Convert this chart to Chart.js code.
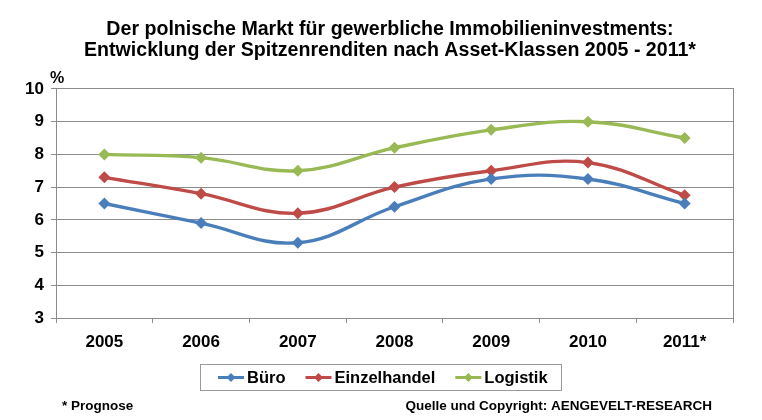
<!DOCTYPE html>
<html><head><meta charset="utf-8">
<script src="https://cdn.jsdelivr.net/npm/chart.js@4/dist/chart.umd.min.js"></script>
<style>html,body{margin:0;padding:0;background:#fff}#wrap{width:762px;height:420px}</style>
</head><body><div id="wrap"><canvas id="c"></canvas></div>
<script>
const categories = ['2005','2006','2007','2008','2009','2010','2011*'];
const bueroValues = [6.5, 5.9, 5.3, 6.4, 7.25, 7.25, 6.5];
const einzelhandelValues = [7.3, 6.8, 6.2, 7.0, 7.5, 7.75, 6.75];
const logistikValues = [8.0, 7.9, 7.5, 8.2, 8.75, 9.0, 8.5];
const seriesNames = ['Büro','Einzelhandel','Logistik'];
const titleLines = ['Der polnische Markt für gewerbliche Immobilieninvestments:','Entwicklung der Spitzenrenditen nach Asset-Klassen 2005 - 2011*'];
const yUnit = '%';
const footnoteLeft = '* Prognose';
const footnoteRight = 'Quelle und Copyright: AENGEVELT-RESEARCH';

const FONT = "'Liberation Sans', Arial, sans-serif";
const colors = ['#4a7ebb','#be4b48','#98b954'];
const seriesValues = [bueroValues, einzelhandelValues, logistikValues];

const extras = {
  id: 'extras',
  afterDraw(chart) {
    const ctx = chart.ctx;
    ctx.save();
    ctx.fillStyle = '#000';
    ctx.font = 'bold 16px ' + FONT;
    ctx.textAlign = 'left';
    ctx.textBaseline = 'alphabetic';
    ctx.fillText(yUnit, 50, 83);
    // legend
    ctx.font = 'bold 16.5px ' + FONT;
    const symW = 26, txtGap = 3, itemGap = 20, padL = 18, padR = 13;
    const items = chart.data.datasets.map(ds => ({label: ds.label, color: ds.borderColor, w: ctx.measureText(ds.label).width}));
    let content = 0;
    items.forEach((it, i) => { content += symW + txtGap + it.w + (i < items.length - 1 ? itemGap : 0); });
    const boxW = padL + content + padR;
    const lx = Math.round(380 - boxW / 2), ly = 364, lh = 26;
    ctx.strokeStyle = '#9a9a9a';
    ctx.lineWidth = 1;
    ctx.strokeRect(lx + 0.5, ly + 0.5, Math.round(boxW), lh);
    let x = lx + padL;
    const cy = ly + lh / 2 + 0.5;
    items.forEach((it) => {
      ctx.strokeStyle = it.color;
      ctx.lineWidth = 3;
      ctx.beginPath(); ctx.moveTo(x, cy); ctx.lineTo(x + symW, cy); ctx.stroke();
      ctx.fillStyle = it.color;
      ctx.beginPath();
      const mx = x + symW / 2, r = 4.5;
      ctx.moveTo(mx, cy - r); ctx.lineTo(mx + r, cy); ctx.lineTo(mx, cy + r); ctx.lineTo(mx - r, cy); ctx.closePath(); ctx.fill();
      ctx.fillStyle = '#000';
      ctx.fillText(it.label, x + symW + txtGap, ly + 19);
      x += symW + txtGap + it.w + itemGap;
    });
    // footer
    ctx.font = 'bold 13.5px ' + FONT;
    ctx.textAlign = 'left';
    ctx.fillText(footnoteLeft, 62, 410);
    ctx.textAlign = 'right';
    ctx.fillText(footnoteRight, 712, 410);
    ctx.restore();
  }
};

new Chart(document.getElementById('c'), {
  type: 'line',
  data: {
    labels: categories,
    datasets: seriesNames.map((n, i) => ({
      label: n,
      data: seriesValues[i],
      borderColor: colors[i],
      backgroundColor: colors[i],
      borderWidth: 3.4,
      tension: 0.4,
      pointStyle: 'rectRot',
      pointRadius: 6,
      pointHoverRadius: 6,
      pointBorderWidth: 0,
      fill: false,
      yAxisID: 'y'
    }))
  },
  options: {
    responsive: true,
    maintainAspectRatio: false,
    animation: false,
    devicePixelRatio: 1,
    layout: { padding: { left: 18, right: 0, top: 0, bottom: 58.6 } },
    plugins: {
      legend: { display: false },
      tooltip: { enabled: false },
      title: {
        display: true,
        text: titleLines,
        color: '#000',
        font: { family: FONT, size: 19.6, weight: 'bold', lineHeight: 1.05 },
        padding: { top: 19.4, bottom: 28.4 }
      }
    },
    scales: {
      x: {
        offset: true,
        grid: { offset: true, drawOnChartArea: false, drawTicks: true, tickLength: 5, color: '#8c8c8c' },
        border: { color: '#8c8c8c', width: 1 },
        ticks: { color: '#000', font: { family: FONT, size: 17, weight: 'bold' }, padding: 9, maxRotation: 0 }
      },
      y: {
        min: 3, max: 10,
        ticks: { stepSize: 1, color: '#000', font: { family: FONT, size: 17, weight: 'bold' }, padding: 7 },
        grid: { color: '#8c8c8c', tickLength: 5 },
        border: { color: '#8c8c8c', width: 1 },
        afterFit(scale) { scale.width = 38; }
      },
      y2: {
        position: 'right',
        min: 3, max: 10,
        ticks: { display: false },
        grid: { drawOnChartArea: false, drawTicks: false },
        border: { color: '#8c8c8c', width: 1 },
        afterFit(scale) { scale.width = 29; }
      }
    }
  },
  plugins: [extras]
});
</script></body></html>
